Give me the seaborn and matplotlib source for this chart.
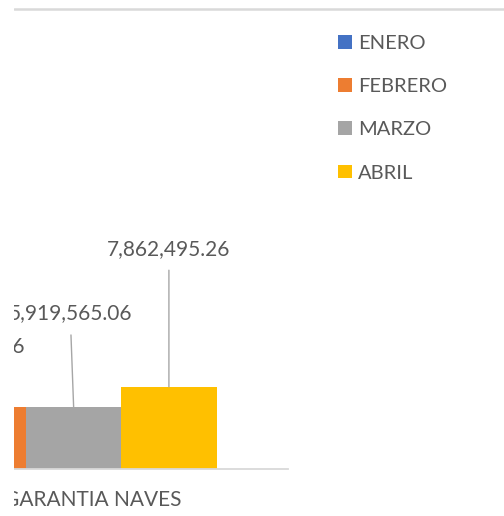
import pandas as pd
import matplotlib.pyplot as plt
import seaborn as sns
from matplotlib.patches import Patch, Rectangle
from matplotlib.lines import Line2D

# Data (ENERO is outside the visible crop, its value is a guess)
categoria = ['GARANTIA NAVES']
meses = ['ENERO', 'FEBRERO', 'MARZO', 'ABRIL']
valores = [5919565.06, 5919565.06, 5919565.06, 7862495.26]
colores = ['#4472C4', '#ED7D31', '#A5A5A5', '#FFC000']
etiquetas = ['5,919,565.06', '5,919,565.06', '5,919,565.06', '7,862,495.26']

W, H = 504, 516
TXT = '#595959'

df = pd.DataFrame({'cat': categoria * len(meses), 'mes': meses, 'valor': valores})

sns.set_style('white')
plt.rcParams['font.family'] = ['Lato', 'DejaVu Sans']

fig = plt.figure(figsize=(W / 100, H / 100), dpi=100)
# plot area runs past the left edge of the (cropped) picture
ax = fig.add_axes([-236 / W, 47 / H, 524 / W, 460 / H])

sns.barplot(data=df, x='cat', y='valor', hue='mes', hue_order=meses,
            palette=colores, saturation=1, width=4 / 5.5, ax=ax, legend=False,
            edgecolor='none', linewidth=0)
ax.set_xlim(-0.5, 0.5)
ax.set_ylim(0, 44e6)
ax.set_xticks([])
ax.set_yticks([])
ax.set_xlabel('')
ax.set_ylabel('')
for s in ['top', 'left', 'right']:
    ax.spines[s].set_visible(False)
ax.spines['bottom'].set_color('#d9d9d9')
ax.spines['bottom'].set_linewidth(1.3)

# data labels with leader lines (offsets in points)
offsets = [(-30, 60, 'center'), (34, 44, 'right'), (-2.5, 67.5, 'center'), (0, 99.5, 'center')]
for cont, lab, (dx, dy, ha) in zip(ax.containers, etiquetas, offsets):
    bar = cont[0]
    xc = bar.get_x() + bar.get_width() / 2
    ax.annotate(lab, xy=(xc, bar.get_height()), xytext=(dx, dy),
                textcoords='offset points', ha=ha, va='center',
                fontsize=15, color=TXT,
                arrowprops=dict(arrowstyle='-', color='#a6a6a6', lw=1.0,
                                shrinkA=6, shrinkB=0))

fig.text(181 / W, 1 - 500 / H, 'GARANTIA NAVES', ha='right', va='center',
         fontsize=15, color=TXT)

handles = [Patch(facecolor=c, edgecolor='none', label=m) for c, m in zip(colores, meses)]
fig.legend(handles=handles, loc='upper left', bbox_to_anchor=(338 / W, 1 - 35 / H),
           frameon=False, fontsize=14.5, handlelength=0.68, handleheight=0.68,
           handletextpad=0.3, labelspacing=1.3, borderpad=0, borderaxespad=0,
           labelcolor=TXT)

# thin rule across the top and the white strip where the picture is cropped
fig.add_artist(Line2D([14 / W, 1], [1 - 9 / H] * 2, transform=fig.transFigure,
                      color='#d9d9d9', lw=1.8))
fig.patches.append(Rectangle((0, 0), 14 / W, 1, transform=fig.transFigure,
                             facecolor='white', edgecolor='none', zorder=10))

fig.savefig('out.png', dpi=100)
